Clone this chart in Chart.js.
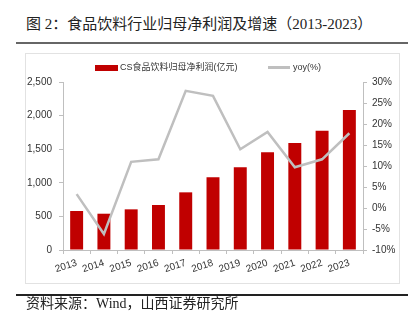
<!DOCTYPE html>
<html>
<head>
<meta charset="utf-8">
<script src="https://cdn.jsdelivr.net/npm/chart.js@4"></script>
<style>
  html, body { margin:0; padding:0; background:#fff; }
  body { width:420px; height:329px; position:relative; overflow:hidden; }
  .title { position:absolute; left:26px; top:15px; font-family:"Liberation Serif","Noto Sans CJK SC",serif; font-size:15px; line-height:18px; color:#222; white-space:nowrap; }
  .rule1 { position:absolute; left:16px; top:42px; width:392px; height:1.5px; background:#666; }
  .rule2 { position:absolute; left:16px; top:294px; width:392px; height:1.5px; background:#222; }
  .box { position:absolute; left:25px; top:53px; width:375px; height:231px; box-sizing:border-box; border:1px solid #e2e2e2; pointer-events:none; }
  #c { position:absolute; left:25px; top:53px; }
  .source { position:absolute; left:26px; top:295px; font-family:"Liberation Serif","Noto Sans CJK SC",serif; font-size:14px; line-height:17px; color:#222; white-space:nowrap; }
  .legend { position:absolute; top:61px; font-family:"Liberation Sans","Noto Sans CJK SC",sans-serif; font-size:9px; line-height:12px; color:#333; white-space:nowrap; }
  .lg-bar { position:absolute; left:95px; top:65px; width:23px; height:6px; background:#c00000; }
  .lg-line { position:absolute; left:268px; top:66px; width:22px; height:2.5px; background:#bfbfbf; }
</style>
</head>
<body>
<div class="title">图 2：食品饮料行业归母净利润及增速（2013-2023）</div>
<div class="rule1"></div>
<canvas id="c" width="375" height="231"></canvas>
<div class="box"></div>
<div class="lg-bar"></div>
<div class="legend" id="lg1" style="left:120px;"></div>
<div class="lg-line"></div>
<div class="legend" id="lg2" style="left:293px;"></div>
<div class="rule2"></div>
<div class="source">资料来源：Wind，山西证券研究所</div>
<script>
const categories = ["2013","2014","2015","2016","2017","2018","2019","2020","2021","2022","2023"];
const profitName = "CS食品饮料归母净利润(亿元)";
const profitValues = [580, 540, 605, 670, 858, 1082, 1230, 1454, 1592, 1775, 2083];
const yoyName = "yoy(%)";
const yoyValues = [3.3, -6.2, 11.0, 11.6, 27.9, 26.7, 14.0, 18.1, 9.7, 11.6, 17.8];
const leftTicks = [0, 500, 1000, 1500, 2000, 2500];
const rightTicks = [-10, -5, 0, 5, 10, 15, 20, 25, 30];

document.getElementById('lg1').textContent = profitName;
document.getElementById('lg2').textContent = yoyName;

const tickFont = { family: "'Liberation Sans', Arial, sans-serif", size: 10 };
const axisColor = '#bfbfbf';

new Chart(document.getElementById('c'), {
  data: {
    labels: categories,
    datasets: [
      { type: 'line', label: yoyName, data: yoyValues, yAxisID: 'y1', borderColor: '#bfbfbf', borderWidth: 2.5, pointRadius: 0, tension: 0, order: 0 },
      { type: 'bar', label: profitName, data: profitValues, yAxisID: 'y', backgroundColor: '#c00000', barPercentage: 0.95, categoryPercentage: 0.5, order: 1 }
    ]
  },
  options: {
    responsive: false,
    animation: false,
    devicePixelRatio: 1,
    layout: { padding: { top: 29, left: 0, right: 0, bottom: 0 } },
    plugins: { legend: { display: false }, tooltip: { enabled: false } },
    scales: {
      x: {
        grid: { display: true, drawOnChartArea: false, color: axisColor, tickLength: 4, offset: true },
        border: { color: axisColor },
        ticks: { font: tickFont, color: '#333', minRotation: 18, maxRotation: 18, padding: 3 },
        afterFit: s => { s.height = 34; }
      },
      y: {
        position: 'left', min: 0, max: 2500,
        afterBuildTicks: s => { s.ticks = leftTicks.map(v => ({ value: v })); },
        grid: { drawOnChartArea: false, color: axisColor, tickLength: 4 },
        border: { color: axisColor },
        ticks: { font: tickFont, color: '#333', padding: 7, callback: v => v.toLocaleString('en-US') },
        afterFit: s => { s.width = 38; }
      },
      y1: {
        position: 'right', min: -10, max: 30,
        afterBuildTicks: s => { s.ticks = rightTicks.map(v => ({ value: v })); },
        grid: { drawOnChartArea: false, color: axisColor, tickLength: 4 },
        border: { color: axisColor },
        ticks: { font: tickFont, color: '#333', padding: 5, callback: v => v + '%' },
        afterFit: s => { s.width = 37; }
      }
    }
  }
});
</script>
</body>
</html>
